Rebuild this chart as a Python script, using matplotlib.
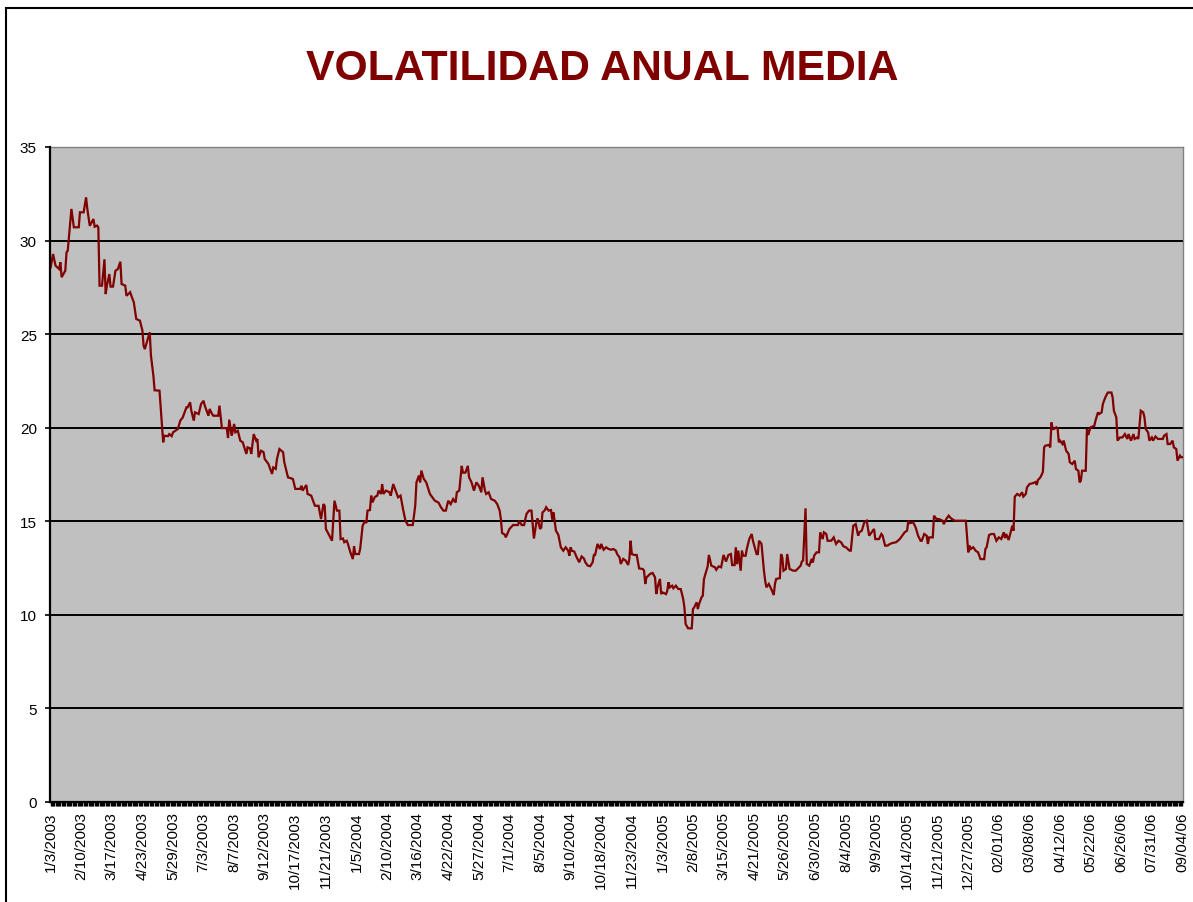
import matplotlib
matplotlib.use("Agg")
import matplotlib.pyplot as plt
from matplotlib import font_manager
from matplotlib.ticker import FixedLocator, MultipleLocator
from matplotlib.patches import Rectangle

# ---------------- data ----------------
title = "VOLATILIDAD ANUAL MEDIA"

tick_labels = [
    "1/3/2003", "2/10/2003", "3/17/2003", "4/23/2003", "5/29/2003", "7/3/2003",
    "8/7/2003", "9/12/2003", "10/17/2003", "11/21/2003", "1/5/2004", "2/10/2004",
    "3/16/2004", "4/22/2004", "5/27/2004", "7/1/2004", "8/5/2004", "9/10/2004",
    "10/18/2004", "11/23/2004", "1/3/2005", "2/8/2005", "3/15/2005", "4/21/2005",
    "5/26/2005", "6/30/2005", "8/4/2005", "9/9/2005", "10/14/2005", "11/21/2005",
    "12/27/2005", "02/01/06", "03/08/06", "04/12/06", "05/22/06", "06/26/06",
    "07/31/06", "09/04/06",
]
label_every = 25          # one label every 25 trading days
n_days = 926              # number of trading days (categories)

day = [
    0, 2, 4, 7, 8, 9, 12, 13, 14, 17, 19, 23, 24, 27, 29, 30, 32, 35, 36, 38,
    39, 40, 42, 44, 45, 46, 48, 49, 51, 53, 55, 57, 58, 61, 62, 65, 66, 68, 70, 73,
    75, 76, 77, 81, 82, 84, 85, 89, 92, 93, 96, 97, 99, 100, 104, 106, 108, 111, 112, 114,
    115, 117, 118, 121, 123, 125, 126, 129, 130, 132, 133, 137, 138, 140, 144, 145, 146, 148, 150, 151,
    153, 155, 157, 160, 161, 163, 164, 166, 168, 169, 170, 172, 174, 175, 178, 181, 182, 184, 185, 187,
    190, 191, 194, 198, 200, 204, 205, 206, 209, 210, 213, 216, 219, 221, 223, 224, 225, 230, 232, 234,
    236, 237, 239, 240, 242, 243, 245, 247, 248, 249, 252, 253, 255, 257, 258, 259, 261, 262, 263, 265,
    267, 268, 270, 271, 272, 274, 277, 278, 280, 282, 284, 286, 288, 290, 292, 296, 298, 299, 301, 302,
    303, 305, 307, 310, 312, 314, 317, 319, 321, 323, 325, 327, 329, 331, 332, 334, 336, 337, 339, 341,
    342, 344, 346, 348, 350, 352, 353, 355, 356, 358, 360, 363, 365, 367, 368, 369, 371, 372, 375, 378,
    382, 383, 385, 387, 388, 389, 391, 393, 395, 397, 398, 400, 401, 402, 404, 405, 407, 409, 410, 411,
    413, 415, 417, 419, 421, 423, 424, 425, 426, 428, 430, 432, 434, 436, 437, 439, 441, 443, 444, 445,
    447, 449, 450, 452, 454, 456, 458, 460, 462, 463, 465, 466, 468, 470, 472, 473, 474, 475, 477, 479,
    481, 484, 485, 486, 487, 490, 492, 494, 495, 496, 498, 499, 500, 503, 504, 505, 506, 508, 509, 511,
    513, 515, 517, 518, 519, 521, 524, 525, 526, 528, 529, 530, 532, 533, 534, 536, 537, 538, 540, 543,
    544, 546, 548, 550, 552, 554, 556, 557, 559, 560, 561, 562, 564, 565, 566, 568, 569, 571, 573, 574,
    577, 578, 579, 581, 583, 584, 585, 587, 589, 591, 592, 593, 596, 597, 598, 599, 601, 602, 604, 607,
    609, 611, 613, 614, 615, 617, 618, 620, 621, 622, 623, 624, 626, 628, 629, 631, 632, 634, 635, 638,
    640, 642, 644, 646, 648, 650, 653, 654, 656, 658, 660, 661, 663, 665, 667, 669, 671, 673, 674, 677,
    679, 680, 682, 684, 686, 688, 691, 694, 696, 698, 700, 701, 702, 705, 707, 709, 711, 712, 714, 716,
    717, 718, 721, 722, 724, 726, 729, 730, 732, 734, 736, 739, 748, 750, 751, 752, 754, 756, 758, 760,
    763, 764, 765, 767, 769, 771, 773, 775, 777, 779, 780, 781, 783, 785, 786, 787, 788, 790, 792, 794,
    795, 797, 798, 800, 803, 805, 806, 807, 809, 811, 812, 813, 816, 817, 818, 819, 820, 822, 823, 824,
    825, 827, 828, 830, 832, 833, 835, 837, 838, 840, 841, 842, 843, 846, 847, 848, 849, 850, 853, 854,
    856, 857, 859, 860, 862, 864, 867, 868, 869, 871, 872, 874, 876, 878, 880, 881, 883, 885, 886, 888,
    889, 891, 893, 894, 895, 897, 898, 900, 901, 903, 905, 909, 910, 912, 913, 915, 917, 918, 920, 921,
    923, 924, 925,
]
vol = [
    28.57, 29.28, 28.66, 28.48, 28.84, 28.04, 28.39, 29.37, 29.46, 31.69, 30.71, 30.71, 31.51, 31.51, 32.31, 31.69, 30.79, 31.15, 30.74, 30.80,
    30.70, 27.59, 27.59, 29.00, 27.14, 27.59, 28.21, 27.54, 27.54, 28.39, 28.48, 28.87, 27.68, 27.59, 27.05, 27.24, 27.05, 26.70, 25.81, 25.72,
    25.20, 24.38, 24.20, 25.10, 23.85, 22.78, 22.00, 21.98, 19.22, 19.57, 19.55, 19.66, 19.55, 19.75, 19.93, 20.38, 20.55, 21.09, 21.09, 21.36,
    20.91, 20.38, 20.82, 20.73, 21.27, 21.44, 21.18, 20.64, 21.00, 20.73, 20.64, 20.64, 21.18, 19.98, 19.98, 19.45, 20.43, 19.57, 20.20, 19.75,
    19.84, 19.31, 19.22, 18.60, 18.95, 18.90, 18.60, 19.66, 19.31, 19.40, 18.42, 18.77, 18.70, 18.33, 18.06, 17.53, 17.88, 17.80, 18.33, 18.86,
    18.69, 18.15, 17.35, 17.26, 16.73, 16.73, 16.90, 16.64, 16.94, 16.46, 16.37, 15.83, 15.83, 15.12, 15.92, 15.83, 14.59, 13.96, 16.10, 15.57,
    15.57, 14.05, 14.08, 13.88, 13.96, 13.79, 13.34, 12.98, 13.66, 13.25, 13.25, 13.52, 14.76, 15.03, 14.90, 15.57, 15.60, 16.37, 16.01, 16.30,
    16.37, 16.64, 16.46, 16.99, 16.46, 16.64, 16.55, 16.37, 16.99, 16.64, 16.28, 16.37, 15.66, 15.03, 14.80, 14.80, 15.83, 17.08, 17.44, 17.08,
    17.71, 17.26, 17.08, 16.46, 16.28, 16.10, 16.00, 15.75, 15.57, 15.57, 16.10, 15.92, 16.19, 16.00, 16.55, 16.64, 17.96, 17.60, 17.60, 17.96,
    17.35, 17.08, 16.64, 17.08, 16.90, 16.55, 17.35, 16.64, 16.46, 16.55, 16.19, 16.10, 15.92, 15.57, 15.12, 14.37, 14.30, 14.14, 14.59, 14.80,
    14.80, 15.03, 14.80, 14.80, 15.12, 15.40, 15.57, 15.57, 14.08, 14.94, 15.15, 14.59, 14.67, 15.47, 15.60, 15.75, 15.57, 15.60, 15.10, 15.47,
    14.50, 14.27, 13.61, 13.43, 13.61, 13.43, 13.16, 13.61, 13.43, 13.38, 13.07, 12.81, 13.12, 13.00, 12.81, 12.63, 12.60, 12.81, 13.20, 13.20,
    13.79, 13.52, 13.79, 13.48, 13.61, 13.52, 13.48, 13.52, 13.43, 13.25, 13.07, 12.72, 12.99, 12.90, 12.67, 12.99, 13.96, 13.25, 13.20, 13.20,
    12.48, 12.45, 12.36, 11.65, 12.00, 12.19, 12.24, 12.00, 11.11, 11.47, 11.92, 11.11, 11.20, 11.11, 11.29, 11.74, 11.47, 11.56, 11.42, 11.56,
    11.38, 11.38, 10.85, 10.40, 9.51, 9.28, 9.28, 10.31, 10.40, 10.67, 10.31, 10.58, 10.94, 11.02, 11.92, 12.36, 12.59, 13.20, 12.63, 12.54,
    12.41, 12.59, 12.54, 13.20, 12.85, 13.20, 13.25, 12.66, 12.66, 13.61, 12.71, 13.43, 12.36, 13.43, 13.16, 13.16, 13.52, 14.05, 14.32, 13.96,
    13.25, 13.25, 13.96, 13.79, 12.36, 11.83, 11.47, 11.65, 11.38, 11.06, 11.65, 11.92, 11.96, 13.25, 13.07, 12.36, 12.45, 13.25, 12.45, 12.36,
    12.36, 12.49, 12.63, 12.85, 12.90, 15.69, 12.72, 12.63, 12.80, 12.99, 12.80, 13.16, 13.34, 13.34, 14.41, 14.05, 14.41, 14.32, 13.96, 13.96,
    14.14, 13.79, 13.96, 13.88, 13.66, 13.61, 13.43, 13.43, 14.76, 14.85, 14.23, 14.41, 14.50, 14.94, 15.03, 14.23, 14.41, 14.59, 14.05, 14.05,
    14.32, 14.23, 13.70, 13.70, 13.79, 13.84, 13.88, 14.05, 14.23, 14.41, 14.50, 15.03, 14.90, 14.94, 14.67, 14.23, 13.96, 13.96, 14.32, 14.23,
    13.79, 14.14, 14.14, 15.30, 15.12, 15.12, 15.03, 14.85, 15.12, 15.30, 15.15, 15.03, 15.03, 13.34, 13.70, 13.52, 13.61, 13.43, 13.34, 12.98,
    12.98, 13.52, 13.61, 14.27, 14.32, 14.32, 13.96, 14.14, 14.05, 14.41, 14.10, 14.32, 14.00, 14.50, 14.76, 14.50, 16.32, 16.46, 16.37, 16.55,
    16.32, 16.46, 16.81, 16.99, 17.04, 17.10, 16.94, 17.21, 17.35, 17.64, 18.95, 19.04, 19.08, 18.95, 20.28, 19.93, 19.93, 20.02, 19.97, 19.22,
    19.31, 19.13, 19.31, 18.77, 18.60, 18.15, 18.06, 18.24, 17.79, 17.70, 17.08, 17.17, 17.70, 17.70, 19.93, 19.61, 19.84, 20.02, 20.10, 20.38,
    20.82, 20.73, 20.82, 21.27, 21.62, 21.88, 21.88, 21.62, 20.91, 20.55, 19.31, 19.48, 19.48, 19.66, 19.40, 19.66, 19.31, 19.66, 19.40, 19.48,
    19.40, 20.91, 20.82, 20.55, 19.93, 19.75, 19.31, 19.48, 19.31, 19.53, 19.40, 19.40, 19.57, 19.66, 19.13, 19.13, 19.31, 18.95, 18.86, 18.24,
    18.51, 18.42, 18.42,
]

y_ticks = [0, 5, 10, 15, 20, 25, 30, 35]

# ---------------- style ----------------
def has_font(name):
    try:
        font_manager.findfont(font_manager.FontProperties(family=name),
                              fallback_to_default=False)
        return True
    except Exception:
        return False

base_font = "Liberation Sans" if has_font("Liberation Sans") else "DejaVu Sans"
title_font = "Liberation Sans Narrow" if has_font("Liberation Sans Narrow") else base_font
plt.rcParams["font.family"] = [base_font, "DejaVu Sans"]

W, H = 1193, 903
fig = plt.figure(figsize=(W / 100, H / 100), dpi=100, facecolor="white")

# chart-area border (partially outside the picture, as in the original)
fig.patches.append(Rectangle((6 / W, -0.1), 1.5, (H - 9) / H + 0.1,
                             transform=fig.transFigure, fill=False,
                             edgecolor="black", linewidth=1.5, zorder=0))

left, right, top, bottom = 50, 1183, 148, 803
ax = fig.add_axes([left / W, 1 - bottom / H, (right - left) / W, (bottom - top) / H])
ax.set_facecolor("#C0C0C0")

ax.plot(day, vol, color="#800000", linewidth=1.6, solid_joinstyle="miter", zorder=3)

ax.set_xlim(-0.5, n_days - 0.5)
ax.set_ylim(0, 35)

ax.set_yticks(y_ticks)
ax.yaxis.grid(True, color="black", linewidth=1.4)
ax.set_axisbelow(True)

label_pos = [i * label_every for i in range(len(tick_labels))]
ax.xaxis.set_major_locator(FixedLocator(label_pos))
ax.set_xticklabels(tick_labels, rotation=90, ha="center", va="top", fontsize=11)
ax.xaxis.set_minor_locator(MultipleLocator(1))
ax.tick_params(axis="x", which="both", direction="out", length=3.2, width=1.0,
               color="black", pad=3.5)
ax.tick_params(axis="y", which="major", direction="out", length=3.5, width=1.2,
               color="black", labelsize=11, pad=6)

for side in ("top", "right"):
    ax.spines[side].set_color("#808080")
    ax.spines[side].set_linewidth(1.0)
for side in ("left", "bottom"):
    ax.spines[side].set_color("black")
    ax.spines[side].set_linewidth(1.6)
    ax.spines[side].set_zorder(4)

fig.text(602 / W, 1 - 80 / H, title, ha="center", va="baseline",
         fontsize=36 if title_font != base_font else 30.8,
         fontweight="bold", color="#800000", family=title_font)

fig.savefig("out.png", dpi=100, facecolor="white")
